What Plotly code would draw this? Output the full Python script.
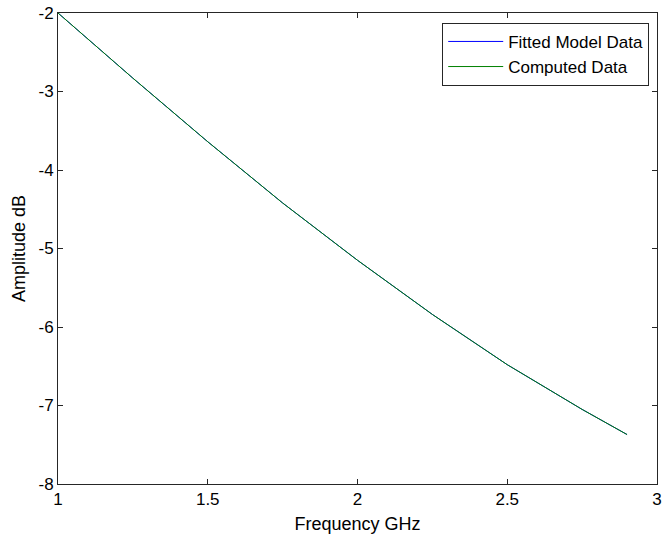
import plotly.graph_objects as go

freq_ghz = [1.0, 1.25, 1.5, 1.75, 2.0, 2.25, 2.5, 2.75, 2.9]
computed_db = [-2.0, -2.83, -3.64, -4.42, -5.15, -5.84, -6.48, -7.05, -7.37]
fitted_db = [-2.0, -2.83, -3.64, -4.42, -5.15, -5.84, -6.48, -7.05, -7.37]

x_ticks = [1, 1.5, 2, 2.5, 3]
x_tick_text = ["1", "1.5", "2", "2.5", "3"]
y_ticks = [-8, -7, -6, -5, -4, -3, -2]
y_tick_text = ["-8", "-7", "-6", "-5", "-4", "-3", "-2"]

fig = go.Figure()
fig.add_trace(go.Scatter(x=freq_ghz, y=fitted_db, mode="lines",
                         name="Fitted Model Data",
                         line=dict(color="#0000ff", width=1)))
fig.add_trace(go.Scatter(x=freq_ghz, y=computed_db, mode="lines",
                         name="Computed Data",
                         line=dict(color="#008000", width=1)))

font_family = "Liberation Sans, Arial, sans-serif"
axis_common = dict(showgrid=False, zeroline=False, showline=True,
                   linecolor="#262626", linewidth=1, mirror="ticks",
                   ticks="inside", ticklen=5, tickcolor="#262626",
                   ticklabeloverflow="allow", automargin=False,
                   tickfont=dict(family=font_family, size=17, color="#000000"))

fig.update_layout(
    width=662, height=535,
    margin=dict(l=58, r=5, t=13, b=51),
    paper_bgcolor="white", plot_bgcolor="white",
    font=dict(family=font_family, size=17, color="#000000"),
    xaxis=dict(range=[1, 3], tickvals=x_ticks, ticktext=x_tick_text,
               title=dict(text="Frequency GHz", font=dict(size=18), standoff=8),
               **axis_common),
    yaxis=dict(range=[-8, -2], tickvals=y_ticks, ticktext=y_tick_text,
               title=dict(text="Amplitude dB", font=dict(size=18), standoff=8),
               **axis_common),
    legend=dict(x=0.987, y=0.979, xanchor="right", yanchor="top",
                bgcolor="white", bordercolor="#262626", borderwidth=1,
                font=dict(family=font_family, size=17, color="#000000"),
                tracegroupgap=0, itemwidth=55),
    showlegend=True,
)

# remove the browser's default 8px body margin so the figure fills the window
fig.write_html("out.html", config={"displayModeBar": False},
               post_script="document.body.style.margin='0px';")
